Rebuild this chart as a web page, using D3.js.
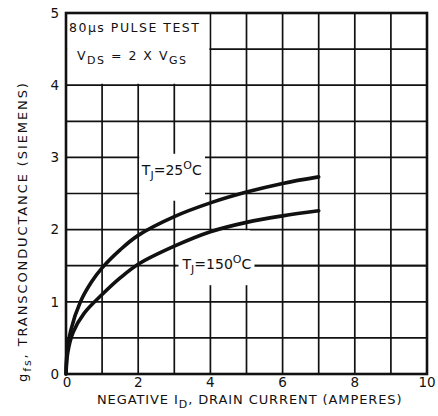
<!DOCTYPE html>
<html>
<head>
<meta charset="utf-8">
<script src="https://cdn.jsdelivr.net/npm/d3@7"></script>
<style>
  body { margin: 0; background: #fff; }
  svg { display: block; }
  text { font-family: "DejaVu Sans", sans-serif; fill: #111; }
</style>
</head>
<body>
<div id="chart"></div>
<script>
// curves: drain current (A) -> transconductance (S)
const idCurrent25 = [0, 0.03, 0.13, 0.4, 0.7, 1, 1.5, 2, 3, 4, 5, 6, 7];
const gfs25       = [0, 0.3, 0.6, 1.0, 1.27, 1.47, 1.72, 1.92, 2.18, 2.37, 2.52, 2.64, 2.73];
const idCurrent150 = [0, 0.05, 0.2, 0.5, 1, 1.5, 2, 3, 4, 5, 6, 7];
const gfs150       = [0, 0.3, 0.58, 0.84, 1.1, 1.33, 1.52, 1.77, 1.97, 2.1, 2.19, 2.26];
const xTicks = [0, 2, 4, 6, 8, 10];
const yTicks = [0, 1, 2, 3, 4, 5];
const xGrid = d3.range(0, 11, 1);
const yGrid = d3.range(0, 5.01, 0.5);

const W = 438, H = 416;
const svg = d3.select("#chart").append("svg").attr("width", W).attr("height", H);

const x = d3.scaleLinear().domain([0, 10]).range([66, 427]);
const y = d3.scaleLinear().domain([0, 5]).range([374, 13]);

const grid = svg.append("g").attr("stroke", "#111").attr("stroke-width", 1.7);
grid.selectAll("line.v").data(xGrid).join("line")
    .attr("x1", d => x(d)).attr("x2", d => x(d))
    .attr("y1", y(0)).attr("y2", y(5));
grid.selectAll("line.h").data(yGrid).join("line")
    .attr("x1", x(0)).attr("x2", x(10))
    .attr("y1", d => y(d)).attr("y2", d => y(d));

// white patches where the original chart leaves the grid out
function mask(x0, x1, y0, y1) {
  svg.append("rect")
    .attr("x", x(x0)).attr("y", y(y1))
    .attr("width", x(x1) - x(x0)).attr("height", y(y0) - y(y1))
    .attr("fill", "#fff");
}
mask(0.03, 3.97, 4.02, 4.99);   // condition box
mask(2.03, 3.85, 2.4, 3.05);    // 25C label
mask(3.05, 5.1, 1.23, 1.99);    // 150C label
svg.append("line")
    .attr("x1", x(3)).attr("x2", x(10))
    .attr("y1", y(1.5)).attr("y2", y(1.5))
    .attr("stroke", "#111").attr("stroke-width", 1.7);

// frame
svg.append("rect")
    .attr("x", x(0)).attr("y", y(5))
    .attr("width", x(10) - x(0)).attr("height", y(0) - y(5))
    .attr("fill", "none").attr("stroke", "#111").attr("stroke-width", 2.6);

// condition box text
const box = svg.append("g").attr("font-size", 12.5).attr("letter-spacing", 1.5);
box.append("text").attr("x", x(0) + 3).attr("y", 32).text("80μs PULSE TEST");
const vt = box.append("text").attr("x", x(0) + 11).attr("y", 60);
vt.append("tspan").text("V");
vt.append("tspan").attr("dy", 4).attr("font-size", 11).text("DS");
vt.append("tspan").attr("dy", -4).text(" = 2 X V");
vt.append("tspan").attr("dy", 4).attr("font-size", 11).text("GS");

// curves
const line = d3.line().x(d => x(d[0])).y(d => y(d[1])).curve(d3.curveCatmullRom.alpha(0.5));
const c25 = idCurrent25.map((v, i) => [v, gfs25[i]]);
const c150 = idCurrent150.map((v, i) => [v, gfs150[i]]);
svg.selectAll("path.curve").data([c25, c150]).join("path")
    .attr("d", line).attr("fill", "none")
    .attr("stroke", "#111").attr("stroke-width", 3.6).attr("stroke-linecap", "round");

// curve labels
function tjLabel(cx, cy, temp, bg) {
  const g = svg.append("g");
  const t = g.append("text").attr("font-size", 14).attr("text-anchor", "middle")
      .attr("x", x(cx)).attr("y", y(cy) + 3);
  t.append("tspan").text("T");
  t.append("tspan").attr("dy", 4).attr("font-size", 11).text("J");
  t.append("tspan").attr("dy", -4).text("=" + temp);
  t.append("tspan").attr("dy", -6).attr("font-size", 11).text("O");
  t.append("tspan").attr("dy", 6).text("C");
  if (bg) {
    const b = t.node().getBBox();
    g.insert("rect", "text").attr("x", b.x - 3).attr("y", b.y + 2)
      .attr("width", b.width + 6).attr("height", b.height - 2).attr("fill", "#fff");
  }
}
tjLabel(2.93, 2.8, "25", false);
tjLabel(4.18, 1.5, "150", true);

// tick labels
svg.append("g").attr("font-size", 13.5).attr("text-anchor", "end")
  .selectAll("text").data(yTicks).join("text")
    .attr("x", 59).attr("y", d => y(d)).attr("dy", "0.35em").text(d => d);
svg.append("g").attr("font-size", 13.5).attr("text-anchor", "middle")
  .selectAll("text").data(xTicks).join("text")
    .attr("x", d => x(d) + (d === 0 ? 1 : 0)).attr("y", 387).text(d => d);

// axis titles
const xt = svg.append("text").attr("font-size", 13).attr("letter-spacing", 0.9)
    .attr("x", 97).attr("y", 404);
xt.append("tspan").text("NEGATIVE I");
xt.append("tspan").attr("dy", 4).attr("font-size", 11).text("D");
xt.append("tspan").attr("dy", -4).text(", DRAIN CURRENT  (AMPERES)");

const yt = svg.append("text").attr("font-size", 13).attr("letter-spacing", 1.9)
    .attr("transform", "translate(27,382) rotate(-90)");
yt.append("tspan").text("g");
yt.append("tspan").attr("dy", 4).attr("font-size", 11).text("fs");
yt.append("tspan").attr("dy", -4).text(",  TRANSCONDUCTANCE  (SIEMENS)");
</script>
</body>
</html>
